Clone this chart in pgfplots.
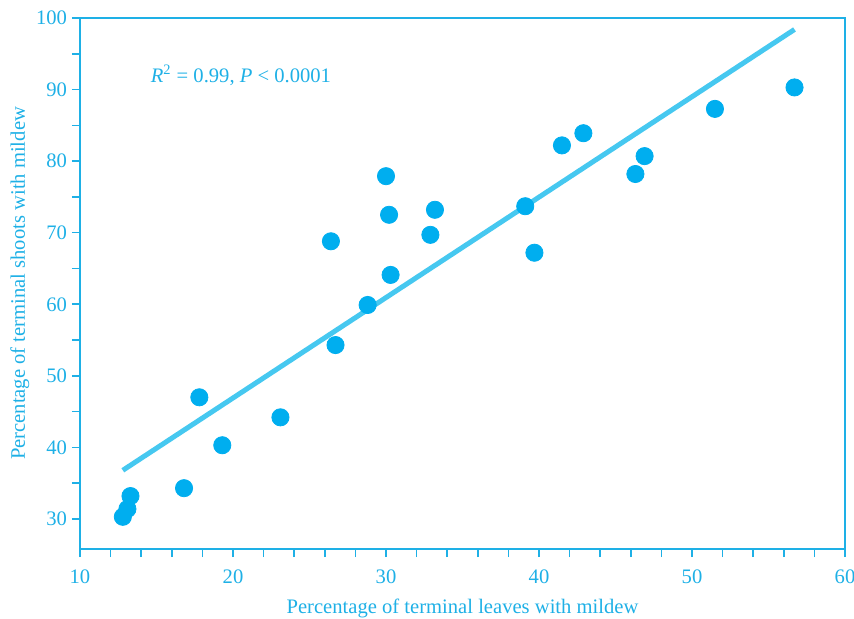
\documentclass[border=0pt]{standalone}
\usepackage{pgfplots}
\pgfplotsset{compat=1.18}
\usepackage{fontspec}
\setmainfont{Liberation Serif}
\definecolor{axc}{RGB}{30,176,230}
\definecolor{ptc}{RGB}{0,174,239}
\definecolor{lnc}{RGB}{70,200,240}
\begin{document}
\begin{tikzpicture}
\begin{axis}[
  scale only axis,
  width=382.5pt, height=265.5pt,
  xmin=10, xmax=60, ymin=25.8, ymax=100,
  xtick={10,20,...,60}, ytick={30,40,...,100},
  minor x tick num=4, minor y tick num=1,
  tick pos=left, tick align=outside,
  major tick length=4pt, minor tick length=4pt,
  axis line style={axc, line width=0.8pt},
  every tick/.style={axc, line width=0.8pt},
  minor tick style={axc, line width=0.8pt},
  ticklabel style={text=axc, font=\fontsize{10.3}{12}\selectfont},
  xticklabel style={yshift=-3pt},
  yticklabel style={xshift=1pt},
  /pgf/number format/assume math mode=true,
  xlabel={Percentage of terminal leaves with mildew},
  ylabel={Percentage of terminal shoots with mildew},
  label style={text=axc, font=\fontsize{10.3}{12}\selectfont},
  xlabel style={yshift=-0.5pt},
  ylabel style={yshift=-3.5pt},
]
\addplot[lnc, line width=2.5pt] coordinates {(12.8,36.8) (56.7,98.4)};
\addplot[only marks, mark=*, mark size=4.3pt, ptc, mark options={draw=ptc, fill=ptc}] coordinates {
(12.8,30.3) (13.1,31.4) (13.3,33.2) (16.8,34.3) (17.8,47.0) (19.3,40.3)
(23.1,44.2) (26.4,68.8) (26.7,54.3) (28.8,59.9) (30.0,77.9) (30.2,72.5)
(30.3,64.1) (32.9,69.7) (33.2,73.2) (39.1,73.7) (39.7,67.2) (41.5,82.2)
(42.9,83.9) (46.3,78.2) (46.9,80.7) (51.5,87.3) (56.7,90.3)
};
\node[anchor=west, text=axc, font=\fontsize{10.3}{12}\selectfont, inner sep=0pt] at (axis cs:14.6,92) {\textit{R}\textsuperscript{2} = 0.99, \textit{P} < 0.0001};
\end{axis}
\pgfresetboundingbox
\path[use as bounding box] ([shift={(-40pt,-34.5pt)}]current axis.south west) rectangle ([shift={(4.5pt,9pt)}]current axis.north east);
\end{tikzpicture}
\end{document}
